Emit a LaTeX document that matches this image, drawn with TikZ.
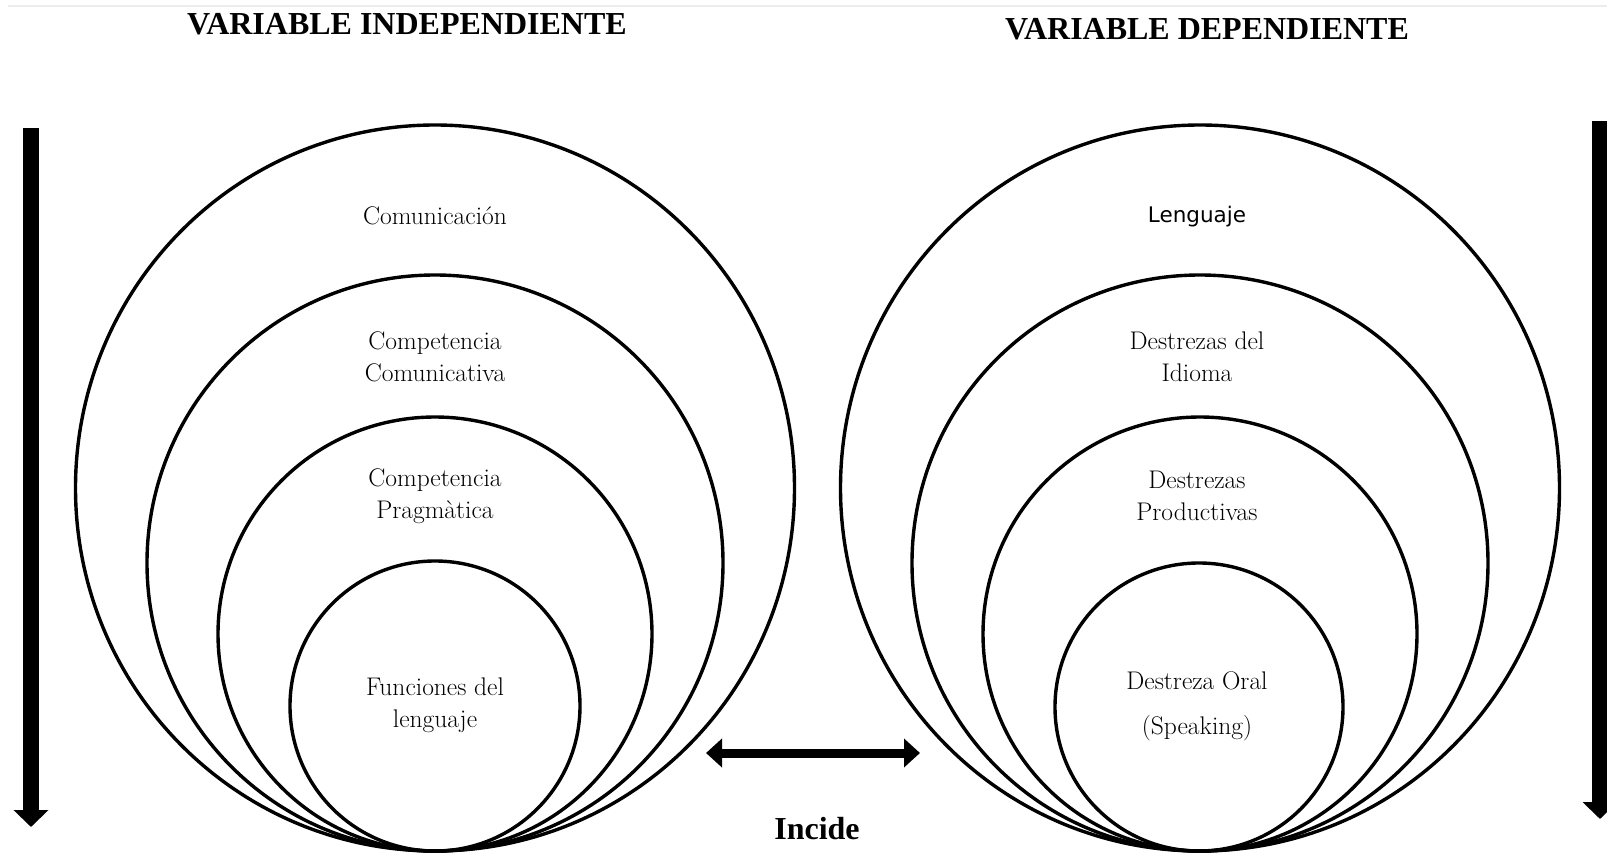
\documentclass[tikz,border=0pt]{standalone}
\usepackage{fontspec}
\newfontfamily\titlefont{Liberation Serif}
\newfontfamily\lsans{DejaVu Sans}
\usetikzlibrary{arrows.meta,shapes.geometric}
\tikzset{
  ring/.style={circle, draw=black, line width=3.4pt, inner sep=0pt, minimum size=#1},
  oring/.style={ellipse, draw=black, line width=3.4pt, inner sep=0pt, minimum width=719pt, minimum height=726pt},
  lbl/.style={align=center, inner sep=0pt, font=\fontsize{25.5}{32}\selectfont},
  ttl/.style={inner sep=0pt, font=\titlefont\bfseries\fontsize{32}{36}\selectfont},
  bigarrow/.style={line width=16pt, -{Triangle[width=34pt,length=17pt]}},
  dblarrow/.style={line width=9pt, {Triangle[width=28pt,length=16pt]}-{Triangle[width=28pt,length=16pt]}}
}
\begin{document}
\begin{tikzpicture}[x=1pt,y=-1pt]
\useasboundingbox[fill=white] (0,0) rectangle (1607,853);
\draw[gray!15, line width=1.5pt] (8,6) -- (1607,6);
% titles
\node[ttl] (t1) at (407,24.5) {VARIABLE INDEPENDIENTE};
\node[ttl] (t2) at (1207,29.5) {VARIABLE DEPENDIENTE};
% left circles
\node[oring] (L1) at (435,488) {};
\node[ring=576pt] (L2) at (435,563) {};
\node[ring=434pt] (L3) at (435,634) {};
\node[ring=290pt] (L4) at (435,706) {};
% right circles
\node[oring] (R1) at (1200,488) {};
\node[ring=576pt] (R2) at (1200,563) {};
\node[ring=434pt] (R3) at (1200,634) {};
\node[ring=288pt] (R4) at (1199,707) {};
% left labels
\node[lbl] (l1) at (435,216) {Comunicación};
\node[lbl] (l2) at (435,357) {Competencia\\Comunicativa};
\node[lbl] (l3) at (435,496) {Competencia\\Pragmàtica};
\node[lbl] (l4) at (435,705) {Funciones del\\lenguaje};
% right labels
\node[inner sep=0pt, font=\lsans\fontsize{21.5}{26}\selectfont] (r1) at (1197,217) {Lenguaje};
\node[lbl] (r2) at (1197,357) {Destrezas del\\Idioma};
\node[lbl] (r3) at (1197,496) {Destrezas\\Productivas};
\node[lbl, font=\fontsize{25.5}{45}\selectfont] (r4) at (1197,706) {Destreza Oral\\(Speaking)};
% arrows
\coordinate (la1) at (31,128);
\coordinate (la2) at (31,827);
\draw[bigarrow] (la1) -- (la2);
\coordinate (ra1) at (1600,121);
\coordinate (ra2) at (1600,819);
\draw[bigarrow] (ra1) -- (ra2);
\coordinate (da1) at (706,753);
\coordinate (da2) at (920,753);
\draw[dblarrow] (da1) -- (da2);
\node[ttl] (inc) at (817,829) {Incide};
\end{tikzpicture}
\end{document}
